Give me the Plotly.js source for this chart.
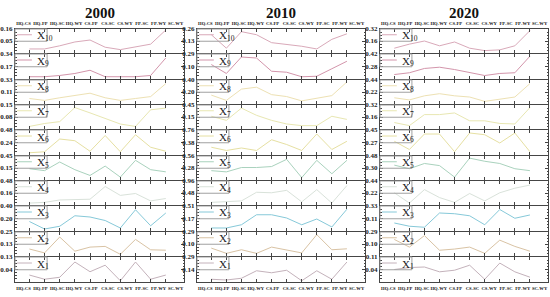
<!DOCTYPE html>
<html><head><meta charset="utf-8">
<script src="https://cdn.plot.ly/plotly-3.0.1.min.js"></script>
<style>html,body{margin:0;padding:0;background:#fff}#chart{width:550px;height:297px}</style>
</head><body><div id="chart"></div>
<script>
const categories = ['HQ-CS','HQ-FP','HQ-SC','HQ-WY','CS-FP','CS-SC','CS-WY','FP-SC','FP-WY','SC-WY'];
const years = ['2000','2010','2020'];
const variables = ['X1','X2','X3','X4','X5','X6','X7','X8','X9','X10'];
const colors = ['#c4b2bb','#d9c3a4','#86c9d9','#d9e2da','#a9d2bd','#e6e0a2','#e8e7b2','#ede1b3','#d395ab','#d9a9b9'];

// values, rows X1..X10
const values2000 = [
  [0.000,-0.030,-0.016,0.094,0.024,0.071,-0.041,0.094,-0.030,0.000],
  [0.080,0.041,0.200,0.058,0.099,0.106,0.027,0.176,0.072,0.068],
  [0.152,0.032,0.076,0.244,0.224,0.168,0.048,0.340,0.084,0.288],
  [-0.109,-0.090,-0.026,-0.026,-0.006,0.333,0.096,0.147,-0.051,0.013],
  [0.132,0.084,0.300,0.108,-0.036,0.198,-0.078,0.342,0.108,0.054],
  [0.043,0.062,0.307,0.274,0.072,0.374,0.062,0.389,0.149,0.072],
  [0.025,0.042,0.053,0.135,0.104,0.072,0.039,0.025,0.122,0.132],
  [-0.009,-0.044,0.004,0.044,0.088,0.004,-0.044,-0.009,0.026,0.264],
  [0.031,0.031,0.048,0.075,0.119,0.031,0.031,0.031,0.048,0.286],
  [-0.023,-0.023,0.006,0.041,0.059,-0.007,-0.029,-0.003,0.021,0.151]
];
const values2010 = [
  [0.023,0.014,0.035,0.125,0.101,0.131,0.005,0.125,0.023,0.230],
  [0.035,-0.048,0.009,-0.048,0.051,0.009,-0.041,0.248,0.009,0.024],
  [-0.088,-0.088,0.000,0.272,0.272,0.184,0.000,0.156,-0.061,0.422],
  [0.106,0.125,0.163,0.509,0.490,0.586,0.125,0.614,0.077,0.778],
  [0.218,0.190,0.291,0.291,0.314,0.482,0.056,0.459,0.146,0.459],
  [0.236,0.137,0.213,0.137,0.464,0.319,0.137,0.638,0.167,0.418],
  [0.168,0.066,0.372,0.192,0.066,-0.024,-0.066,-0.066,0.168,0.090],
  [0.148,0.060,0.248,0.280,0.156,0.124,0.052,0.100,0.140,0.368],
  [0.130,-0.006,0.244,0.229,0.028,0.013,-0.056,-0.048,0.066,0.180],
  [0.198,0.052,0.231,0.198,0.112,0.096,0.073,0.044,0.148,0.208]
];
const values2020 = [
  [0.040,0.051,0.054,0.027,0.036,0.064,-0.015,0.076,0.027,-0.003],
  [0.172,0.051,0.233,0.001,0.020,0.051,-0.048,0.161,0.062,-0.014],
  [0.031,-0.026,-0.044,0.207,0.194,0.158,0.000,0.268,0.114,0.172],
  [0.224,0.035,0.282,0.136,0.048,0.211,0.075,0.224,0.308,0.365],
  [0.343,0.289,0.368,0.336,0.163,0.448,0.401,0.368,0.289,0.260],
  [0.288,0.169,0.392,0.392,0.137,0.407,0.382,0.263,0.407,0.137],
  [0.086,0.045,0.192,0.192,0.214,0.109,0.109,0.074,0.067,0.285],
  [0.114,0.075,0.150,0.189,0.150,0.128,0.048,0.092,0.128,0.374],
  [0.190,0.210,0.258,0.272,0.246,0.216,0.179,0.202,0.210,0.395],
  [0.064,0.118,0.160,0.096,0.147,0.064,0.032,0.042,0.096,0.298]
];
// y tick labels (top of panel, middle of panel), rows X1..X10
const tickTop2000 = [0.13,0.25,0.40,0.48,0.45,0.48,0.15,0.33,0.34,0.16];
const tickMid2000 = [0.04,0.13,0.20,0.16,0.15,0.24,0.08,0.11,0.17,0.05];
const tickTop2010 = [0.29,0.29,0.51,0.96,0.56,0.76,0.45,0.40,0.29,0.26];
const tickMid2010 = [0.14,0.10,0.17,0.48,0.28,0.38,0.15,0.20,0.10,0.13];
const tickTop2020 = [0.11,0.29,0.33,0.44,0.48,0.45,0.32,0.44,0.42,0.32];
const tickMid2020 = [0.04,0.10,0.11,0.22,0.30,0.27,0.16,0.22,0.28,0.16];

const allValues = [values2000, values2010, values2020];
const allTop = [tickTop2000, tickTop2010, tickTop2020];
const allMid = [tickMid2000, tickMid2010, tickMid2020];

const W = 550, H = 297;
const colL = [15, 197, 380], colR = [184, 365, 548];
// row top edges (px); each row's bottom sits 1px below the next row's top so frame lines coincide
const rowTops = [29, 54, 80, 105, 130, 156, 181, 206, 232, 257];
const lastBottom = 282;
const FONT = 'Liberation Serif, Times New Roman, serif';
const frame = '#454545';

const traces = [];
const layout = {
  width: W, height: H, margin: {l:0, r:0, t:0, b:0},
  paper_bgcolor: '#fff', plot_bgcolor: 'rgba(0,0,0,0)',
  showlegend: false, annotations: [], shapes: []
};
const axName = i => (i === 1 ? '' : String(i));

for (let c = 0; c < 3; c++) {
  const xd = [colL[c] / W, colR[c] / W];
  for (let v = 0; v < 10; v++) {
    const r = 9 - v;
    const idx = c * 10 + r + 1;
    const n = axName(idx);
    const yTopPx = rowTops[r];
    const yBotPx = r < 9 ? rowTops[r + 1] - 1 : lastBottom;
    const hi = allTop[c][v], mid = allMid[c][v], lo = 2 * mid - hi;
    layout['xaxis' + n] = {
      domain: xd, anchor: 'y' + n, type: 'category', categoryorder: 'array', categoryarray: categories,
      range: [-0.95, 10.2], showticklabels: false, showgrid: false, zeroline: false,
      showline: true, linecolor: frame, linewidth: 1, mirror: 'ticks',
      ticks: 'inside', ticklen: 3, tickcolor: frame, tickwidth: 1
    };
    layout['yaxis' + n] = {
      domain: [1 - yBotPx / H, 1 - yTopPx / H], anchor: 'x' + n,
      range: [lo, hi], tickmode: 'array', tickvals: [mid, hi], tickformat: '.2f',
      showgrid: false, zeroline: false, showline: true, linecolor: frame, linewidth: 1,
      mirror: 'ticks', ticks: 'inside', ticklen: 3, tickcolor: frame, tickwidth: 1,
      tickfont: {family: FONT, size: 7, weight: 'bold', color: '#222'},
      minor: {ticks: 'inside', ticklen: 1.5, tickcolor: frame, tickmode: 'array',
              tickvals: [lo + (hi - lo) * 0.125, lo + (hi - lo) * 0.25, lo + (hi - lo) * 0.375,
                         lo + (hi - lo) * 0.625, lo + (hi - lo) * 0.75, lo + (hi - lo) * 0.875]}
    };
    traces.push({
      type: 'scatter', mode: 'lines', x: categories, y: allValues[c][v],
      xaxis: 'x' + n, yaxis: 'y' + n, name: variables[v],
      line: {color: colors[v], width: 1}, hoverinfo: 'skip'
    });
    // legend box, sample line and label
    layout.shapes.push({type: 'rect', xref: 'x' + n + ' domain', yref: 'y' + n + ' domain',
      x0: 0, x1: 0.19, y0: 0.49, y1: 1, line: {color: '#a0a0a0', width: 1}, fillcolor: 'rgba(0,0,0,0)'});
    layout.shapes.push({type: 'line', xref: 'x' + n + ' domain', yref: 'y' + n + ' domain',
      x0: 0.012, x1: 0.10, y0: 0.76, y1: 0.76, line: {color: colors[v], width: 1}});
    layout.annotations.push({xref: 'x' + n + ' domain', yref: 'y' + n + ' domain',
      x: 0.118, y: 0.74, xanchor: 'left', yanchor: 'middle', showarrow: false,
      text: 'X', font: {family: FONT, size: 11, color: '#222'}});
    layout.annotations.push({xref: 'x' + n + ' domain', yref: 'y' + n + ' domain',
      x: 0.118, y: 0.74, xanchor: 'left', yanchor: 'middle', xshift: 8, yshift: -3, showarrow: false,
      text: String(v + 1), font: {family: FONT, size: 7.5, color: '#222'}});
  }
  // category label axes (top and bottom)
  const baseTop = axName(c * 10 + 1), baseBot = axName(c * 10 + 10);
  const tId = 31 + c * 2, bId = 32 + c * 2;
  const labelAxis = (base, side) => ({
    overlaying: 'x' + base, anchor: 'y' + base, side: side, type: 'category',
    categoryorder: 'array', categoryarray: categories, range: [-0.5, 9.5],
    showgrid: false, zeroline: false, showline: false, ticks: '', ticklabelstandoff: 2,
    tickfont: {family: FONT, size: 4.6, weight: 'bold', color: '#111'}, tickangle: 0
  });
  layout['xaxis' + tId] = labelAxis(baseTop, 'top');
  layout['xaxis' + bId] = labelAxis(baseBot, 'bottom');
  traces.push({type: 'scatter', mode: 'lines', x: categories, y: categories.map(() => null),
    xaxis: 'x' + tId, yaxis: 'y' + baseTop, hoverinfo: 'skip', showlegend: false});
  traces.push({type: 'scatter', mode: 'lines', x: categories, y: categories.map(() => null),
    xaxis: 'x' + bId, yaxis: 'y' + baseBot, hoverinfo: 'skip', showlegend: false});
  // column title
  layout.annotations.push({xref: 'paper', yref: 'paper', x: (colL[c] + colR[c]) / 2 / W, y: 1 - 13 / H,
    xanchor: 'center', yanchor: 'middle', showarrow: false, text: years[c],
    font: {family: FONT, size: 15, weight: 'bold', color: '#111'}});
}

Plotly.newPlot('chart', traces, layout, {staticPlot: true, displayModeBar: false});
</script>
</body></html>
